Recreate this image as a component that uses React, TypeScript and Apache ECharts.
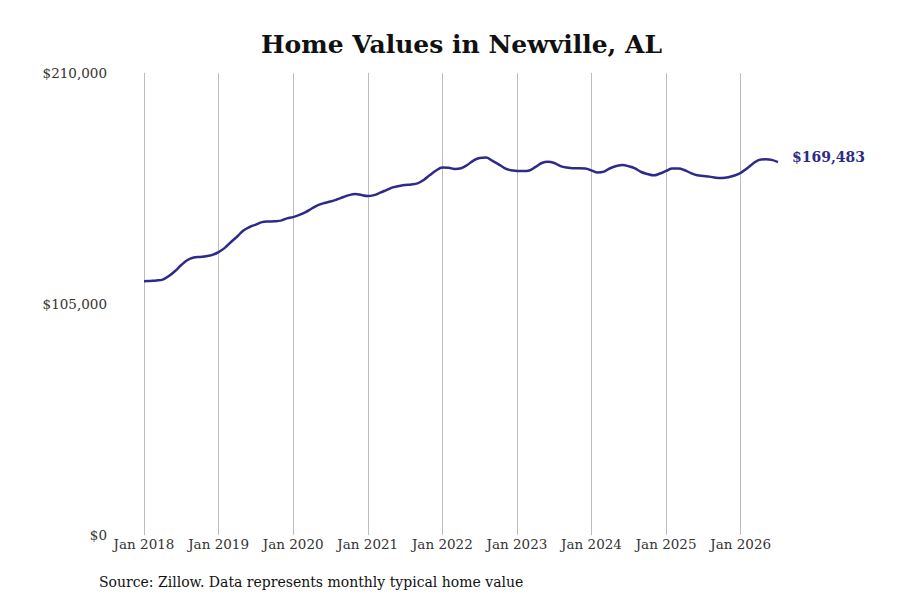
import React, { useEffect, useRef } from 'react'
import * as echarts from 'echarts'

// monthly typical home value, Jan 2018 .. Jul 2026
const years = [2018, 2019, 2020, 2021, 2022, 2023, 2024, 2025, 2026]
const monthNames = ['Jan', 'Feb', 'Mar', 'Apr', 'May', 'Jun', 'Jul', 'Aug', 'Sep', 'Oct', 'Nov', 'Dec']

const values2018 = [115300, 115500, 115700, 116100, 117700, 120000, 122700, 125000, 126100, 126400, 126700, 127300]
const values2019 = [128600, 130500, 133200, 135700, 138400, 140000, 141100, 142200, 142500, 142600, 142900, 143900]
const values2020 = [144500, 145500, 146800, 148400, 149900, 150900, 151600, 152500, 153500, 154500, 155000, 154500]
const values2021 = [154100, 154500, 155600, 156800, 158000, 158600, 159100, 159300, 159800, 161400, 163600, 165700]
const values2022 = [167000, 166900, 166400, 166700, 168200, 170200, 171400, 171600, 170200, 168600, 166800, 165800]
const values2023 = [165500, 165400, 165700, 167300, 169100, 169700, 169100, 167700, 167000, 166700, 166700, 166600]
const values2024 = [165700, 164800, 165200, 166700, 167700, 168200, 167600, 166600, 165000, 164100, 163500, 164300]
const values2025 = [165500, 166600, 166600, 165800, 164500, 163500, 163200, 162900, 162400, 162300, 162600, 163400]
const values2026 = [164600, 166600, 168900, 170500, 170800, 170500, 169483]

const values = [
  ...values2018, ...values2019, ...values2020, ...values2021, ...values2022,
  ...values2023, ...values2024, ...values2025, ...values2026
]
const categories = values.map((_, i) => monthNames[i % 12] + ' ' + years[Math.floor(i / 12)])

const yTicks = [0, 105000, 210000]
const font = 'DejaVu Serif'
const lineColor = '#2e2a88'

const fmt = (v: number) => '$' + v.toLocaleString('en-US')

const Chart = () => {
  const chartRef: any = useRef()

  useEffect(() => {
    const chart = echarts.init(chartRef.current, null, { renderer: 'svg' })
    const options: any = {
      animation: false,
      backgroundColor: '#ffffff',
      textStyle: { fontFamily: font },
      title: {
        text: 'Home Values in Newville, AL',
        left: 256,
        top: 27,
        textStyle: { fontFamily: font, fontSize: 25, fontWeight: 'bold', color: '#111111' }
      },
      grid: { left: 144, right: 122, top: 73, bottom: 65, containLabel: false },
      xAxis: {
        type: 'category',
        data: categories,
        boundaryGap: false,
        axisLine: { show: false },
        axisTick: { show: false },
        axisLabel: {
          interval: (i: number) => i % 12 === 0,
          margin: 2,
          fontFamily: font,
          fontSize: 13.5,
          color: '#333333'
        },
        splitLine: {
          show: true,
          interval: (i: number) => i % 12 === 0,
          lineStyle: { color: '#bdbdbd', width: 1 }
        }
      },
      yAxis: {
        type: 'value',
        min: yTicks[0],
        max: yTicks[yTicks.length - 1],
        interval: yTicks[1] - yTicks[0],
        axisLine: { show: false },
        axisTick: { show: false },
        splitLine: { show: false },
        axisLabel: {
          margin: 37,
          fontFamily: font,
          fontSize: 13.5,
          color: '#333333',
          formatter: (v: number) => fmt(v)
        }
      },
      series: [
        {
          type: 'line',
          data: values,
          smooth: 0.4,
          symbol: 'none',
          lineStyle: { color: lineColor, width: 2.5 },
          endLabel: {
            show: true,
            distance: 14,
            offset: [0, -5],
            formatter: (p: any) => fmt(p.value),
            fontFamily: font,
            fontSize: 14,
            fontWeight: 'bold',
            color: lineColor
          }
        }
      ],
      graphic: [
        {
          type: 'text',
          left: 99,
          top: 575,
          style: {
            text: 'Source: Zillow. Data represents monthly typical home value',
            fontFamily: font,
            fontSize: 14,
            fill: '#111111'
          }
        }
      ]
    }
    chart.setOption(options)

    return () => {
      chart.dispose()
    }
  }, [])

  return (
    <div
      style={{ position: 'absolute', left: 0, top: 0, width: 900, height: 600 }}
      ref={chartRef}
    ></div>
  )
}

export default function App() {
  return <Chart />
}
